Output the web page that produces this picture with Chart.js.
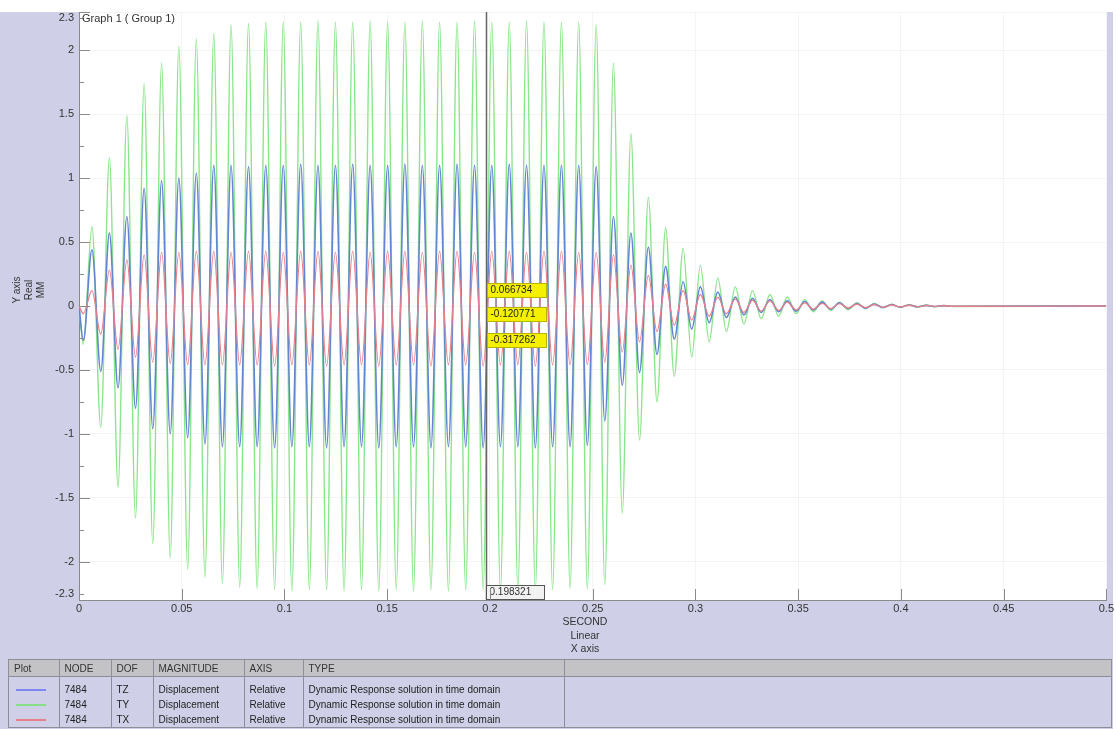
<!DOCTYPE html>
<html>
<head>
<meta charset="utf-8">
<script src="https://cdn.jsdelivr.net/npm/chart.js@4/dist/chart.umd.min.js"></script>
<style>
  html, body { margin: 0; padding: 0; background: #ffffff; }
  #wrap { position: absolute; left: 0; top: 0; width: 1116px; height: 729px; background: #ffffff; overflow: hidden; }
  #panel { position: absolute; left: 0; top: 12px; width: 1113px; height: 717px; background: #cfd0e8; }
  #cv { position: absolute; left: 0; top: 0; }
  .txt { position: absolute; font-family: "Liberation Sans", Arial, sans-serif; color: #333; }
  #graphTitle { left: 82px; top: 12px; font-size: 11px; }
  #yTitle { left: 4px; top: 272px; width: 50px; font-size: 10px; line-height: 12px; text-align: center; transform: rotate(-90deg); }
  #xTitle { left: 545px; top: 615px; width: 80px; font-size: 10.5px; line-height: 13.5px; text-align: center; }
  #legend { position: absolute; left: 8px; top: 659px; width: 1104px; height: 69px; border: 1px solid #8d8d9c; box-sizing: border-box; }
  #legend table { border-collapse: collapse; font-family: "Liberation Sans", Arial, sans-serif; font-size: 10px; color: #222; table-layout: fixed; width: 1102px; }
  #legend th { background: #c3c3c6; font-weight: normal; text-align: left; height: 16px; padding: 0 0 0 5px; border-right: 1px solid #8d8d9c; border-bottom: 1px solid #8d8d9c; color: #333; }
  #legend td { height: 15px; padding: 0 0 0 5px; border-right: 1px solid #8d8d9c; white-space: nowrap; }
  #legend tr.gap td { height: 5px; }
  .swatch { display: inline-block; width: 30px; height: 0; border-top: 2px solid; vertical-align: middle; margin-left: 2px; }
</style>
</head>
<body>
<div id="wrap">
  <div id="panel"></div>
  <canvas id="cv" width="1116" height="729"></canvas>
  <div class="txt" id="graphTitle">Graph 1 ( Group 1)</div>
  <div class="txt" id="yTitle">Y axis<br>Real<br>MM</div>
  <div class="txt" id="xTitle">SECOND<br>Linear<br>X axis</div>
  <div id="legend"></div>
</div>
<script>
// time of each peak / trough (s), with start and end points
const extremaTimes = [
  0,
  0.0021, 0.0063, 0.0106, 0.0148, 0.0190, 0.0233, 0.0275, 0.0317, 0.0359, 0.0402,
  0.0444, 0.0486, 0.0529, 0.0571, 0.0613, 0.0656, 0.0698, 0.0740, 0.0782, 0.0825,
  0.0867, 0.0909, 0.0952, 0.0994, 0.1036, 0.1079, 0.1121, 0.1163, 0.1205, 0.1248,
  0.1290, 0.1332, 0.1375, 0.1417, 0.1459, 0.1502, 0.1544, 0.1586, 0.1628, 0.1671,
  0.1713, 0.1755, 0.1798, 0.1840, 0.1882, 0.1925, 0.1967, 0.2009, 0.2051, 0.2094,
  0.2136, 0.2178, 0.2221, 0.2263, 0.2305, 0.2348, 0.2390, 0.2432, 0.2474, 0.2517,
  0.2559, 0.2601, 0.2644, 0.2686, 0.2728, 0.2771, 0.2813, 0.2855, 0.2897, 0.2940,
  0.2982, 0.3024, 0.3067, 0.3109, 0.3151, 0.3194, 0.3236, 0.3278, 0.3320, 0.3363,
  0.3405, 0.3447, 0.3490, 0.3532, 0.3574, 0.3617, 0.3659, 0.3701, 0.3743, 0.3786,
  0.3828, 0.3870, 0.3913, 0.3955, 0.3997, 0.4040, 0.4082, 0.4124, 0.4166, 0.4209,
  0.4251,
  0.5
];

// TY (green)
const tyValues = [
  0,
  -0.30, 0.62, -0.95, 1.16, -1.42, 1.49, -1.66, 1.74, -1.86, 1.90,
  -1.97, 2.03, -2.06, 2.09, -2.12, 2.13, -2.17, 2.20, -2.20, 2.21,
  -2.21, 2.22, -2.22, 2.22, -2.23, 2.22, -2.22, 2.23, -2.22, 2.22,
  -2.23, 2.22, -2.22, 2.23, -2.23, 2.22, -2.22, 2.22, -2.23, 2.23,
  -2.22, 2.22, -2.23, 2.22, -2.22, 2.23, -2.22, 2.22, -2.23, 2.22,
  -2.22, 2.23, -2.22, 2.22, -2.22, 2.22, -2.21, 2.22, -2.21, 2.20,
  -2.18, 1.90, -1.62, 1.35, -1.05, 0.85, -0.75, 0.61, -0.55, 0.45,
  -0.40, 0.32, -0.28, 0.22, -0.20, 0.15, -0.14, 0.12, -0.10, 0.09,
  -0.08, 0.07, -0.06, 0.05, -0.045, 0.04, -0.035, 0.03, -0.03, 0.025,
  -0.02, 0.02, -0.015, 0.015, -0.012, 0.01, -0.01, 0.008, -0.006, 0.005,
  -0.004,
  0
];

// TZ (blue)
const tzValues = [
  0,
  -0.27, 0.44, -0.51, 0.57, -0.64, 0.70, -0.80, 0.92, -0.96, 0.98,
  -1.00, 1.00, -1.03, 1.04, -1.08, 1.10, -1.10, 1.10, -1.10, 1.09,
  -1.10, 1.10, -1.11, 1.10, -1.10, 1.11, -1.10, 1.10, -1.11, 1.10,
  -1.10, 1.11, -1.10, 1.10, -1.11, 1.10, -1.10, 1.11, -1.10, 1.10,
  -1.11, 1.10, -1.10, 1.11, -1.10, 1.10, -1.11, 1.10, -1.10, 1.11,
  -1.10, 1.10, -1.11, 1.10, -1.10, 1.10, -1.10, 1.10, -1.09, 1.09,
  -0.90, 0.70, -0.62, 0.57, -0.52, 0.46, -0.38, 0.31, -0.26, 0.19,
  -0.18, 0.15, -0.13, 0.11, -0.09, 0.07, -0.07, 0.06, -0.05, 0.05,
  -0.045, 0.04, -0.04, 0.035, -0.03, 0.03, -0.025, 0.025, -0.02, 0.02,
  -0.018, 0.015, -0.012, 0.012, -0.01, 0.008, -0.006, 0.005, -0.004, 0.003,
  -0.002,
  0
];

// TX (red)
const txValues = [
  0,
  -0.06, 0.12, -0.22, 0.28, -0.34, 0.36, -0.40, 0.40, -0.44, 0.42,
  -0.45, 0.42, -0.46, 0.43, -0.46, 0.43, -0.46, 0.42, -0.46, 0.43,
  -0.46, 0.43, -0.47, 0.42, -0.46, 0.43, -0.46, 0.43, -0.47, 0.42,
  -0.46, 0.43, -0.46, 0.42, -0.47, 0.43, -0.46, 0.43, -0.46, 0.42,
  -0.47, 0.43, -0.46, 0.43, -0.46, 0.42, -0.47, 0.43, -0.46, 0.43,
  -0.46, 0.42, -0.47, 0.43, -0.46, 0.43, -0.46, 0.42, -0.46, 0.42,
  -0.44, 0.40, -0.36, 0.32, -0.28, 0.24, -0.20, 0.17, -0.15, 0.12,
  -0.11, 0.09, -0.08, 0.07, -0.06, 0.055, -0.05, 0.045, -0.04, 0.04,
  -0.035, 0.03, -0.03, 0.025, -0.025, 0.02, -0.02, 0.018, -0.016, 0.014,
  -0.012, 0.01, -0.01, 0.008, -0.007, 0.006, -0.005, 0.004, -0.003, 0.002,
  -0.002,
  0
];

const xTickValues = [0, 0.05, 0.1, 0.15, 0.2, 0.25, 0.3, 0.35, 0.4, 0.45, 0.5];
const xTickLabels = ['0', '0.05', '0.1', '0.15', '0.2', '0.25', '0.3', '0.35', '0.4', '0.45', '0.5'];
const yTickValues = [-2.3, -2, -1.5, -1, -0.5, 0, 0.5, 1, 1.5, 2, 2.3];
// end labels (-2.3 / 2.3) are drawn tucked inside by the endLabels plugin
const yTickLabels = ['', '-2', '-1.5', '-1', '-0.5', '0', '0.5', '1', '1.5', '2', ''];
const yEndLabels = ['-2.3', '2.3'];
const yMinorTicks = [-2.25, -1.75, -1.25, -0.75, -0.25, 0.25, 0.75, 1.25, 1.75, 2.25];

const cursorTime = 0.198321;
const cursorLabel = '0.198321';
const cursorValues = [0.066734, -0.120771, -0.317262];
const cursorTexts = ['0.066734', '-0.120771', '-0.317262'];

const legendRows = [
  { color: '#7f86f0', node: '7484', dof: 'TZ', mag: 'Displacement', axis: 'Relative', type: 'Dynamic Response solution in time domain' },
  { color: '#86de86', node: '7484', dof: 'TY', mag: 'Displacement', axis: 'Relative', type: 'Dynamic Response solution in time domain' },
  { color: '#e8808c', node: '7484', dof: 'TX', mag: 'Displacement', axis: 'Relative', type: 'Dynamic Response solution in time domain' }
];

function pts(vals) {
  return extremaTimes.map((t, i) => ({ x: t, y: vals[i] }));
}

/* ---------- legend table ---------- */
(function buildLegend() {
  let h = '<table><colgroup><col style="width:50px"><col style="width:52px"><col style="width:42px">' +
          '<col style="width:91px"><col style="width:59px"><col style="width:261px"><col></colgroup>';
  h += '<tr><th>Plot</th><th>NODE</th><th>DOF</th><th>MAGNITUDE</th><th>AXIS</th><th>TYPE</th><th style="border-right:none"></th></tr>';
  h += '<tr class="gap"><td></td><td></td><td></td><td></td><td></td><td></td><td style="border-right:none"></td></tr>';
  legendRows.forEach(r => {
    h += `<tr><td><span class="swatch" style="border-color:${r.color}"></span></td><td>${r.node}</td><td>${r.dof}</td>` +
         `<td>${r.mag}</td><td>${r.axis}</td><td>${r.type}</td><td style="border-right:none"></td></tr>`;
  });
  h += '</table>';
  document.getElementById('legend').innerHTML = h;
})();

/* ---------- plugins ---------- */
const plotBg = {
  id: 'plotBg',
  beforeDraw(chart) {
    const { ctx, chartArea: a } = chart;
    ctx.save();
    ctx.fillStyle = '#ffffff';
    ctx.fillRect(a.left, a.top, a.right - a.left, a.bottom - a.top);
    ctx.restore();
  }
};

const innerTicks = {
  id: 'innerTicks',
  afterDraw(chart) {
    const { ctx, chartArea: a, scales } = chart;
    ctx.save();
    ctx.strokeStyle = '#8a8a8a';
    ctx.lineWidth = 1;
    ctx.beginPath();
    yTickValues.forEach(v => {
      const y = Math.round(scales.y.getPixelForValue(v)) + 0.5;
      ctx.moveTo(a.left, y); ctx.lineTo(a.left + 11, y);
    });
    yMinorTicks.forEach(v => {
      const y = Math.round(scales.y.getPixelForValue(v)) + 0.5;
      ctx.moveTo(a.left, y); ctx.lineTo(a.left + 5, y);
    });
    xTickValues.forEach(v => {
      const x = Math.round(scales.x.getPixelForValue(v)) + 0.5;
      ctx.moveTo(x, a.bottom); ctx.lineTo(x, a.bottom - 11);
    });
    ctx.stroke();

    // -2.3 / 2.3 labels, kept inside the plot height
    ctx.font = '11px "Liberation Sans", Arial, sans-serif';
    ctx.fillStyle = '#333';
    ctx.textAlign = 'right';
    ctx.textBaseline = 'middle';
    ctx.fillText(yEndLabels[0], a.left - 5, a.bottom - 6);
    ctx.fillText(yEndLabels[1], a.left - 5, a.top + 6);
    ctx.restore();
  }
};

const cursor = {
  id: 'cursor',
  afterDatasetsDraw(chart) {
    const { ctx, chartArea: a, scales } = chart;
    const x = Math.round(scales.x.getPixelForValue(cursorTime)) + 0.5;
    ctx.save();
    ctx.strokeStyle = '#666666';
    ctx.lineWidth = 1.5;
    ctx.beginPath();
    ctx.moveTo(x, a.top); ctx.lineTo(x, a.bottom);
    ctx.stroke();

    ctx.font = '10px "Liberation Sans", Arial, sans-serif';
    ctx.textBaseline = 'middle';
    cursorValues.forEach((v, i) => {
      const yb = Math.round(scales.y.getPixelForValue(v));
      ctx.fillStyle = '#f4f000';
      ctx.fillRect(x + 1, yb - 14, 59, 14);
      ctx.strokeStyle = '#b8b400';
      ctx.lineWidth = 1;
      ctx.strokeRect(x + 1, yb - 14 + 0.5, 59, 14);
      ctx.fillStyle = '#222';
      ctx.fillText(cursorTexts[i], x + 4, yb - 7);
    });

    ctx.fillStyle = '#f2f2f2';
    ctx.fillRect(x, a.bottom - 15, 58, 14);
    ctx.strokeStyle = '#555';
    ctx.lineWidth = 1;
    ctx.strokeRect(x, a.bottom - 15 + 0.5, 58, 14);
    ctx.fillStyle = '#333';
    ctx.fillText(cursorLabel, x + 3, a.bottom - 8);
    ctx.restore();
  }
};

/* ---------- chart ---------- */
const tickFont = { family: '"Liberation Sans", Arial, sans-serif', size: 11 };

new Chart(document.getElementById('cv'), {
  type: 'line',
  data: {
    datasets: [
      { label: 'TX', data: pts(txValues), borderColor: '#e8808a', borderWidth: 1.3 },
      { label: 'TZ', data: pts(tzValues), borderColor: '#6585d2', borderWidth: 1.6 },
      { label: 'TY', data: pts(tyValues), borderColor: '#8ae68a', borderWidth: 1.4 }
    ]
  },
  options: {
    responsive: false,
    animation: false,
    devicePixelRatio: 1,
    layout: { padding: { left: 0, top: 12, right: 9, bottom: 0 } },
    elements: {
      point: { radius: 0 },
      line: { cubicInterpolationMode: 'monotone', fill: false }
    },
    plugins: { legend: { display: false }, tooltip: { enabled: false } },
    scales: {
      x: {
        type: 'linear', min: 0, max: 0.5,
        afterBuildTicks: s => { s.ticks = xTickValues.map(v => ({ value: v })); },
        afterFit: s => { s.height = 129; },
        ticks: { font: tickFont, color: '#333', padding: 2, maxRotation: 0, autoSkip: false,
                 callback: (v, i) => xTickLabels[i] },
        grid: { color: '#f4f4f4', drawTicks: false },
        border: { display: true, color: '#8a8a8a', width: 1 }
      },
      y: {
        type: 'linear', min: -2.3, max: 2.3,
        afterBuildTicks: s => { s.ticks = yTickValues.map(v => ({ value: v })); },
        afterFit: s => { s.width = 79; },
        ticks: { font: tickFont, color: '#333', padding: 5, autoSkip: false,
                 callback: (v, i) => yTickLabels[i] },
        grid: { color: '#f4f4f4', drawTicks: false },
        border: { display: true, color: '#8a8a8a', width: 1 }
      }
    }
  },
  plugins: [plotBg, innerTicks, cursor]
});
</script>
</body>
</html>
